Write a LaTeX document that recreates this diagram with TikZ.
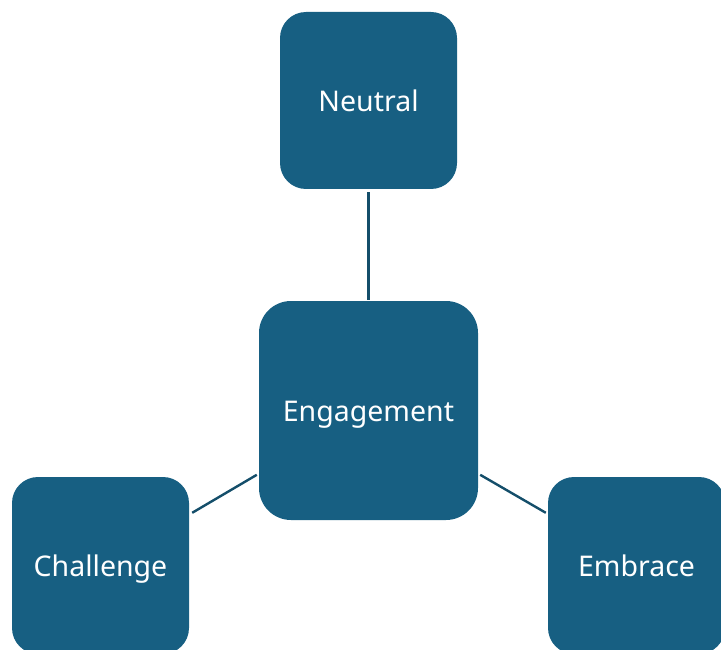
\documentclass[tikz,border=0pt]{standalone}
\usepackage{fontspec}
\setmainfont{Noto Sans}
\usetikzlibrary{calc}
\definecolor{boxblue}{RGB}{23,95,130}
\definecolor{linkblue}{RGB}{20,78,106}
\begin{document}
\begin{tikzpicture}[x=1pt,y=-1pt,
  box/.style={fill=boxblue, draw=none, rounded corners=26pt, minimum width=177pt, minimum height=177pt, inner sep=0pt, text=white, font=\fontsize{28.5}{32}\selectfont, text height=23pt, text depth=1.8pt},
  bigbox/.style={box, minimum width=219pt, minimum height=219pt, rounded corners=32pt},
  link/.style={draw=linkblue, line width=2.4pt}]
\useasboundingbox (0,0) rectangle (721,650);
\clip (0,0) rectangle (721,650);
\node[box] (neutral) at (368.5,100.5) {Neutral};
\node[bigbox] (engage) at (368.5,410.5) {Engagement};
\node[box] (chal) at (100.5,565.5) {Challenge};
\node[box] (embr) at (636.5,565.5) {Embrace};
\draw[link] ($(neutral.south)+(0,3)$) -- ($(engage.north)+(0,-1)$);
\draw[link] ($(chal.north east)+(3,36)$) -- ($(engage.north west)+(-2,174)$);
\draw[link] ($(embr.north west)+(-2,36)$) -- ($(engage.north east)+(2,174)$);
\end{tikzpicture}
\end{document}
